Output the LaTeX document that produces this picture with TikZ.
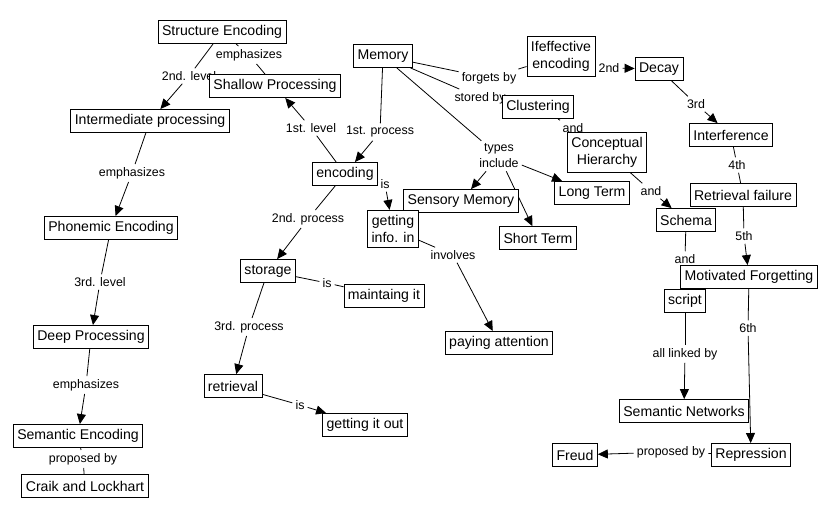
\documentclass[tikz,border=0pt]{standalone}
\usepackage{fontspec}
\setmainfont{Liberation Sans}
\usetikzlibrary{arrows.meta}
\pgfdeclarelayer{back}
\pgfsetlayers{back,main}

\begin{document}
\begin{tikzpicture}[x=1pt,y=-1pt,
	concept/.style={draw,fill=white,line width=0.8pt,inner xsep=4pt,inner ysep=5pt,minimum height=23pt,align=center,font=\fontsize{14.1}{17}\selectfont},
	linkword/.style={inner sep=3pt,align=center,font=\fontsize{12.4}{16}\selectfont},
	link/.style={line width=0.8pt},
	linkto/.style={line width=0.8pt,-{Triangle[length=10pt,width=9pt]}}]
	\begin{pgfonlayer}{back}
	\fill[white] (0,0) rectangle (832,517);
	\end{pgfonlayer}
	\useasboundingbox (0,0) rectangle (832,517);
	% linking words
	\node[linkword] (l1) at (249,55) {emphasizes};
	\node[linkword] (l2) at (189,76) {2nd. level};
	\node[linkword] (l3) at (132,173) {emphasizes};
	\node[linkword] (l4) at (100,282) {3rd. level};
	\node[linkword] (l5) at (86,385) {emphasizes};
	\node[linkword] (l6) at (83,459) {proposed by};
	\node[linkword] (l7) at (311,128) {1st. level};
	\node[linkword] (l8) at (380,132) {1st. process};
	\node[linkword] (l9) at (385,184) {is};
	\node[linkword] (l10) at (308,219) {2nd. process};
	\node[linkword] (l11) at (327,283) {is};
	\node[linkword] (l12) at (249,327) {3rd. process};
	\node[linkword] (l13) at (300,405) {is};
	\node[linkword] (l14) at (453,255) {involves};
	\node[linkword] (l15) at (489,78) {forgets by};
	\node[linkword] (l16) at (609,68) {2nd};
	\node[linkword] (l17) at (480,98) {stored by};
	\node[linkword] (l18) at (499,156) {types\\include};
	\node[linkword] (l19) at (573,128) {and};
	\node[linkword] (l20) at (651,191) {and};
	\node[linkword] (l21) at (696,104) {3rd};
	\node[linkword] (l22) at (737,165) {4th};
	\node[linkword] (l23) at (744,236) {5th};
	\node[linkword] (l24) at (685,259) {and};
	\node[linkword] (l25) at (685,354) {all linked by};
	\node[linkword] (l26) at (748,328) {6th};
	\node[linkword] (l27) at (671,452) {proposed by};
	% concepts
	\node[concept] (1) at (222,32) {Structure Encoding};
	\node[concept] (2) at (275,86) {Shallow Processing};
	\node[concept] (3) at (150,121) {Intermediate processing};
	\node[concept] (4) at (111,228) {Phonemic Encoding};
	\node[concept] (5) at (91,337) {Deep Processing};
	\node[concept] (6) at (78,436) {Semantic Encoding};
	\node[concept] (7) at (85,486) {Craik and Lockhart};
	\node[concept] (8) at (383,56) {Memory};
	\node[concept] (9) at (345,174) {encoding};
	\node[concept] (11) at (461,201) {Sensory Memory};
	\node[concept] (10) at (393,229) {getting\\info. in};
	\node[concept] (12) at (538,238) {Short Term};
	\node[concept] (13) at (592,193) {Long Term};
	\node[concept] (14) at (561,56) {Ifeffective\\encoding};
	\node[concept] (15) at (659,69) {Decay};
	\node[concept] (16) at (538,107) {Clustering};
	\node[concept] (17) at (607,152) {Conceptual\\Hierarchy};
	\node[concept] (18) at (731,135) {Interference};
	\node[concept] (19) at (743,195) {Retrieval failure};
	\node[concept] (20) at (686,220) {Schema};
	\node[concept] (21) at (749,277) {Motivated Forgetting};
	\node[concept] (22) at (685,301) {script};
	\node[concept] (23) at (684,411) {Semantic Networks};
	\node[concept] (24) at (751,455) {Repression};
	\node[concept] (25) at (575,455) {Freud};
	\node[concept] (26) at (499,343) {paying attention};
	\node[concept] (27) at (268,271) {storage};
	\node[concept] (28) at (384,296) {maintaing it};
	\node[concept] (29) at (233,386) {retrieval};
	\node[concept] (30) at (365,425) {getting it out};
	% links
	\begin{pgfonlayer}{back}
	\draw[link] (1) -- (l1) -- (2);
	\draw[link] (1) -- (l2); \draw[linkto] (l2) -- (3);
	\draw[link] (3) -- (l3); \draw[linkto] (l3) -- (4);
	\draw[link] (4) -- (l4); \draw[linkto] (l4) -- (5);
	\draw[link] (5) -- (l5); \draw[linkto] (l5) -- (6);
	\draw[link] (6) -- (l6) -- (7);
	\draw[link] (9) -- (l7); \draw[linkto] (l7) -- (2);
	\draw[link] (8) -- (l8); \draw[linkto] (l8) -- (9);
	\draw[link] (9) -- (l9); \draw[linkto] (l9) -- (10);
	\draw[link] (9) -- (l10); \draw[linkto] (l10) -- (27);
	\draw[link] (27) -- (l11) -- (28);
	\draw[link] (27) -- (l12); \draw[linkto] (l12) -- (29);
	\draw[link] (29) -- (l13); \draw[linkto] (l13) -- (30);
	\draw[link] (10) -- (l14); \draw[linkto] (l14) -- (26);
	\draw[link] (8) -- (l15) -- (14);
	\draw[link] (14) -- (l16); \draw[linkto] (l16) -- (15);
	\draw[link] (8) -- (l17) -- (16);
	\draw[link] (8) -- (l18);
	\draw[linkto] (l18) -- (11);
	\draw[linkto] (l18) -- (12);
	\draw[linkto] (l18) -- (13);
	\draw[link] (16) -- (l19) -- (17);
	\draw[link] (17) -- (l20); \draw[linkto] (l20) -- (20);
	\draw[link] (15) -- (l21); \draw[linkto] (l21) -- (18);
	\draw[link] (18) -- (l22) -- (19);
	\draw[link] (19) -- (l23); \draw[linkto] (l23) -- (21);
	\draw[link] (20) -- (l24) -- (22);
	\draw[link] (22) -- (l25); \draw[linkto] (l25) -- (23);
	\draw[link] (21) -- (l26); \draw[linkto] (l26) -- (24);
	\draw[link] (24) -- (l27); \draw[linkto] (l27) -- (25);
	\end{pgfonlayer}
\end{tikzpicture}
\end{document}
